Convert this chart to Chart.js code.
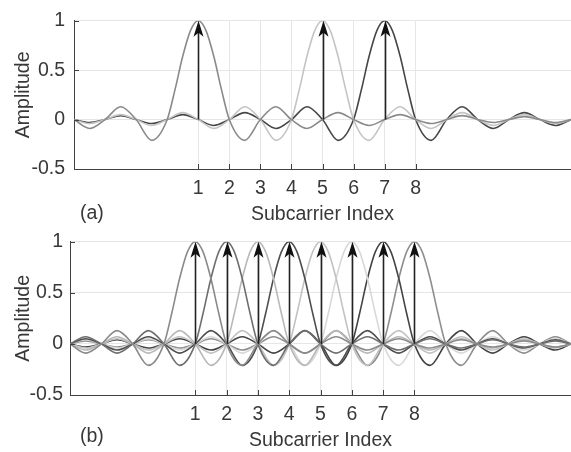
<!DOCTYPE html>
<html><head><meta charset="utf-8">
<script src="https://cdn.jsdelivr.net/npm/chart.js@4.4.1/dist/chart.umd.min.js"></script>
<style>
html,body{margin:0;padding:0;background:#fff;}
#wrap{position:relative;width:571px;height:452px;overflow:hidden;background:#fff;}
canvas{position:absolute;left:0;}
</style></head><body>
<div id="wrap">
<canvas id="ca" width="571" height="226" style="top:0px"></canvas>
<canvas id="cb" width="571" height="229" style="top:223px"></canvas>
</div>
<script>
// ---- data ----
const xTickValues = [1, 2, 3, 4, 5, 6, 7, 8];
const yTickValues = [-0.5, 0, 0.5, 1];
const xRange = [-3, 13];
const yRange = [-0.5, 1];
// one subcarrier pulse: main lobe samples (offset from centre, amplitude)
const mainLobeOffsets = [0, 0.25, 0.5, 0.75, 1];
const mainLobeValues  = [1, 0.90, 0.64, 0.30, 0];
// side-lobe peak amplitudes at offsets 1.5, 2.5, 3.5, ... (zeros at integer offsets)
const sidelobePeaks = [-0.21, 0.13, -0.09, 0.07, -0.06, 0.05, -0.04, 0.04, -0.03, 0.03, -0.03, 0.03, -0.02, 0.02, -0.02];
// panel (a)
const centersA = [1, 5, 7];
const colorsA  = ['#8a8a8a', '#c4c4c4', '#464646'];
// panel (b)
const centersB = [1, 2, 3, 4, 5, 6, 7, 8];
const colorsB  = ['#8a8a8a', '#6e6e6e', '#b8b8b8', '#4e4e4e', '#c2c2c2', '#d8d8d8', '#444444', '#8e8e8e'];
const arrowAmplitude = 1;

// ---- build the pulse profile table from the arrays above ----
const half = [];
mainLobeOffsets.forEach((o, i) => half.push({x: o, y: mainLobeValues[i]}));
sidelobePeaks.forEach((p, i) => {
  half.push({x: i + 1.5, y: p});
  half.push({x: i + 2, y: 0});
});
const profile = half.slice(1).map(p => ({x: -p.x, y: p.y})).reverse().concat(half);

function datasetsFor(centers, colors) {
  return centers.map((c, i) => ({
    data: profile.map(p => ({x: c + p.x, y: p.y})).filter(p => p.x >= xRange[0] - 1e-9 && p.x <= xRange[1] + 1e-9),
    borderColor: colors[i],
    borderWidth: 1.6,
    pointRadius: 0,
    fill: false,
    cubicInterpolationMode: 'monotone'
  }));
}

Chart.defaults.font.family = "'Liberation Sans', Arial, sans-serif";
Chart.defaults.font.size = 19.5;
Chart.defaults.color = '#383838';

const extras = {
  id: 'extras',
  afterDatasetsDraw(chart, args, opts) {
    const ctx = chart.ctx, xs = chart.scales.x, ys = chart.scales.y, a = chart.chartArea;
    ctx.save();
    // arrows
    opts.centers.forEach(c => {
      const px = Math.round(xs.getPixelForValue(c)) + 0.5;
      const y0 = ys.getPixelForValue(0);
      const y1 = ys.getPixelForValue(arrowAmplitude);
      ctx.strokeStyle = '#222';
      ctx.lineWidth = 1.6;
      ctx.beginPath();
      ctx.moveTo(px, y0);
      ctx.lineTo(px, y1 + 9);
      ctx.stroke();
      ctx.fillStyle = '#111';
      ctx.beginPath();
      ctx.moveTo(px, y1);
      ctx.lineTo(px + 5, y1 + 16);
      ctx.lineTo(px, y1 + 12);
      ctx.lineTo(px - 5, y1 + 16);
      ctx.closePath();
      ctx.fill();
    });
    // inward tick marks
    ctx.strokeStyle = '#404040';
    ctx.lineWidth = 1;
    xTickValues.forEach(v => {
      const px = Math.round(xs.getPixelForValue(v)) + 0.5;
      ctx.beginPath(); ctx.moveTo(px, a.bottom); ctx.lineTo(px, a.bottom - 5); ctx.stroke();
    });
    yTickValues.forEach(v => {
      const py = Math.round(ys.getPixelForValue(v)) + 0.5;
      ctx.beginPath(); ctx.moveTo(a.left, py); ctx.lineTo(a.left + 5, py); ctx.stroke();
    });
    // panel label
    ctx.fillStyle = '#383838';
    ctx.font = "19.5px 'Liberation Sans', Arial, sans-serif";
    ctx.textBaseline = 'middle';
    ctx.textAlign = 'left';
    ctx.fillText(opts.label, 80, 214);
    ctx.restore();
  }
};

function makeChart(id, centers, colors, label, leftWidth, yPad) {
  new Chart(document.getElementById(id), {
    type: 'line',
    data: {datasets: datasetsFor(centers, colors)},
    options: {
      responsive: false,
      animation: false,
      events: [],
      layout: {padding: {top: 12, right: 0, left: 0, bottom: 0}},
      plugins: {
        legend: {display: false},
        tooltip: {enabled: false},
        extras: {centers: centers, label: label}
      },
      scales: {
        x: {
          type: 'linear', min: xRange[0], max: xRange[1],
          afterBuildTicks: s => { s.ticks = xTickValues.map(v => ({value: v})); },
          afterFit: s => { s.height = 57; },
          grid: {color: '#e6e6e6', lineWidth: 1, drawTicks: false},
          border: {display: true, color: '#404040', width: 1},
          ticks: {padding: 8, maxRotation: 0, autoSkip: false},
          title: {display: true, text: 'Subcarrier Index', padding: 0}
        },
        y: {
          type: 'linear', min: yRange[0], max: yRange[1],
          afterBuildTicks: s => { s.ticks = yTickValues.map(v => ({value: v})); },
          afterFit: s => { s.width = leftWidth; },
          grid: {color: '#e6e6e6', lineWidth: 1, drawTicks: false},
          border: {display: true, color: '#404040', width: 1},
          ticks: {padding: yPad, callback: v => String(v)},
          title: {display: true, text: 'Amplitude', padding: 12}
        }
      }
    },
    plugins: [extras]
  });
}

makeChart('ca', centersA, colorsA, '(a)', 74, 9);
makeChart('cb', centersB, colorsB, '(b)', 70, 7);
</script>
</body></html>
